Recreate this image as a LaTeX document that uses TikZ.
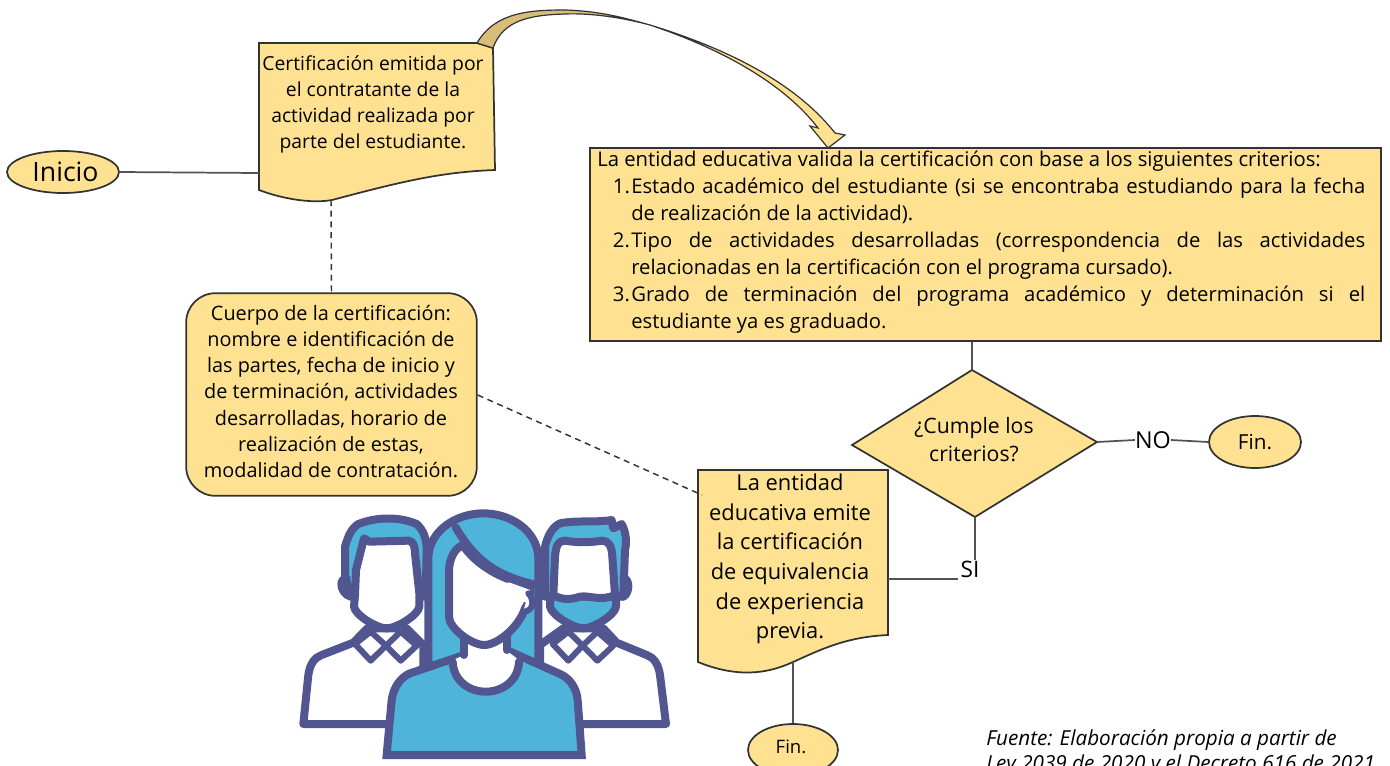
\documentclass[tikz,border=0pt]{standalone}
\usepackage{fontspec}
\setmainfont{Open Sans}
\usetikzlibrary{shapes.geometric}
\definecolor{yel}{HTML}{FEE292}
\definecolor{tan}{HTML}{D8BE78}
\definecolor{edge}{HTML}{333333}
\definecolor{icb}{HTML}{4FB4D9}
\definecolor{icp}{HTML}{525690}
\newcommand{\jl}[2]{\makebox[25.5pt][r]{#1\hspace{1pt}}\makebox[550.5pt][s]{#2}}
\newcommand{\jc}[1]{\hspace*{25.5pt}#1}
\tikzset{
  shapebox/.style={draw=edge,fill=yel,line width=1.3pt},
  link/.style={draw=edge!85,line width=1.3pt},
  dashlink/.style={draw=edge,line width=1.1pt,dashed,dash pattern=on 4.5pt off 3.5pt},
  txt/.style={align=center,inner sep=0pt,font=\fontsize{14.5}{19.3}\selectfont},
  termin/.style={shape=ellipse,shapebox,inner sep=0pt,align=center},
  icline/.style={draw=icp,line width=6pt,line join=round,line cap=round},
}
\begin{document}
\begin{tikzpicture}[x=0.75pt,y=-0.75pt]
\useasboundingbox (0,0) rectangle (1390,765);
% document 1
\draw[shapebox] (259,43) -- (477,43) -- (493,48) -- (495,170) .. controls (440,172) and (400,182) .. (332,200) .. controls (310,204) and (280,198) .. (259,190) -- cycle;
\coordinate (d1w) at (259,173);
\coordinate (d1b) at (331,200);
\node[txt] (d1) at (373,104.5) {Certificación emitida por\\el contratante de la\\actividad realizada por\\parte del estudiante.};
% curved arrow
\draw[draw=edge,fill=tan,line width=0.9pt] (477,43) .. controls (495,12) and (530,10) .. (565,10) .. controls (600,11) and (625,18) .. (650,25) .. controls (620,17) and (590,13) .. (565,14) .. controls (530,15) and (503,20) .. (493,48) -- cycle;
\draw[draw=edge,fill=yel,line width=0.9pt] (650,25) .. controls (725,48) and (795,82) .. (835,133) -- (845,135) -- (828,148) -- (810,126) -- (818,128) .. controls (785,85) and (725,50) .. (650,25) -- cycle;
% inicio
\node[termin,minimum width=84pt,minimum height=31.5pt] (ini) at (63,172) {};
\node[inner sep=0pt,font=\fontsize{20}{24}\selectfont] (init) at (65.5,172) {Inicio};
\draw[link] (ini.east) -- (d1w);
% rounded box
\node[shapebox,rounded corners=22pt,minimum width=218pt,minimum height=152pt,inner sep=0pt] (cu) at (331.5,394.5) {};
\node[txt,font=\fontsize{14.9}{19.65}\selectfont] (cut) at (331,391.5) {Cuerpo de la certificación:\\nombre e identificación de\\las partes, fecha de inicio y\\de terminación, actividades\\desarrolladas, horario de\\realización de estas,\\modalidad de contratación.};
\draw[dashlink] (d1b) -- (cu.north);
% big box
\node[shapebox,minimum width=593pt,minimum height=144.5pt,inner sep=0pt] (big) at (985.5,244.5) {};
\node[inner sep=0pt,anchor=north west,align=left,font=\fontsize{15.2}{20.25}\selectfont] (bigt) at (597,151) {La entidad educativa valida la certificación con base a los siguientes criterios:\\
\jl{1.}{Estado académico del estudiante (si se encontraba estudiando para la fecha}\\
\jc{de realización de la actividad).}\\
\jl{2.}{Tipo de actividades desarrolladas (correspondencia de las actividades}\\
\jc{relacionadas en la certificación con el programa cursado).}\\
\jl{3.}{Grado de terminación del programa académico y determinación si el}\\
\jc{estudiante ya es graduado.}};
% diamond
\draw[shapebox] (972,370) -- (1097,442) -- (975,517) -- (852,445) -- cycle;
\coordinate (dt) at (972,370);
\coordinate (dr) at (1097,442);
\coordinate (db) at (975,517);
\node[txt,font=\fontsize{15.9}{21}\selectfont] (dq) at (974,440) {¿Cumple los\\criterios?};
\draw[link] (big.south -| dt) -- (dt);
\node[inner sep=0pt,font=\fontsize{17.5}{21}\selectfont] (no) at (1153,440) {NO};
\node[termin,minimum width=69pt,minimum height=39pt,font=\fontsize{15.5}{18}\selectfont] (fin1) at (1255,442) {Fin.};
\draw[link] (dr) -- (no.west);
\draw[link] (no.east) -- (fin1.west);
\node[inner sep=0pt,font=\fontsize{17}{20}\selectfont] (si) at (970,569) {SI};
\draw[link] (db) -- (si.north -| db);
% document 2
\draw[shapebox] (698,470) -- (888,470) -- (888,635) .. controls (845,637) and (820,650) .. (793,662) .. controls (765,675) and (735,677) .. (698,662) -- cycle;
\coordinate (d2r) at (888,579);
\coordinate (d2b) at (793,662);
\coordinate (d2l) at (702,495);
\coordinate (siw) at (958,579);
\node[txt,font=\fontsize{16.4}{22.2}\selectfont] (d2) at (790,559) {La entidad\\educativa emite\\la certificación\\de equivalencia\\de experiencia\\previa.};
\draw[link] (d2r) -- (siw);
\draw[dashlink] (cu.east |- 0,395) -- (d2l);
\node[termin,minimum width=67.5pt,minimum height=39pt] (fin2) at (793,750) {};
\node[inner sep=0pt,font=\fontsize{13.9}{16}\selectfont] (fin2t) at (791,747) {Fin.};
\draw[link] (d2b) -- (fin2.north);
% source
\node[anchor=north west,inner sep=0pt,align=left,font=\fontsize{15.5}{18.8}\selectfont\itshape] (src) at (986,729) {Fuente: Elaboración propia a partir de\\Ley 2039 de 2020 y el Decreto 616 de 2021};
% icon
\begin{scope}[shift={(280,500)},x=0.25pt,y=-0.25pt]
% left man
\draw[icline,fill=white] (330,672) -- (70,672) -- (85,525) .. controls (90,490) and (105,472) .. (125,465) -- (220,428) -- (262,385) -- (380,385) -- (430,435) -- (430,672) -- cycle;
\draw[icline,fill=white,line width=4.5pt] (225,432) -- (272,395) -- (318,437) -- (272,482) -- cycle;
\draw[icline,fill=white,line width=4.5pt] (318,437) -- (362,395) -- (410,437) -- (362,482) -- cycle;
\draw[icline,fill=icb] (215,290) -- (195,230) -- (195,140) .. controls (205,105) and (215,85) .. (235,72) .. controls (290,50) and (360,50) .. (410,72) .. controls (430,90) and (440,115) .. (440,150) -- (437,290) -- cycle;
\draw[icline] (212,290) .. controls (180,280) and (175,235) .. (200,235);
\draw[icline,fill=white] (225,285) -- (228,210) -- (252,115) -- (268,125) -- (385,122) .. controls (400,122) and (405,140) .. (405,160) -- (418,280) -- (418,320) .. controls (415,345) and (350,385) .. (320,385) .. controls (290,385) and (225,345) .. (222,320) -- cycle;
% right man
\draw[icline,fill=white] (900,672) -- (1158,672) -- (1140,525) .. controls (1135,490) and (1120,472) .. (1100,465) -- (1010,428) -- (970,385) -- (850,385) -- (780,435) -- (780,672) -- cycle;
\draw[icline,fill=white,line width=4.5pt] (818,432) -- (865,395) -- (908,437) -- (865,482) -- cycle;
\draw[icline,fill=white,line width=4.5pt] (908,437) -- (952,395) -- (1000,437) -- (952,482) -- cycle;
\draw[icline,fill=icb] (795,290) -- (795,140) .. controls (805,100) and (820,80) .. (840,70) .. controls (890,60) and (950,68) .. (995,60) -- (1000,85) -- (1025,72) .. controls (1040,100) and (1040,130) .. (1035,150) -- (1030,290) -- cycle;
\draw[icline] (1030,290) .. controls (1050,280) and (1050,235) .. (1030,235);
\draw[icline,fill=icb] (810,290) -- (810,320) .. controls (815,345) and (880,385) .. (910,385) .. controls (940,385) and (1005,345) .. (1008,320) -- (1008,290) -- cycle;
\draw[icline,fill=white] (820,285) -- (825,170) .. controls (828,135) and (835,122) .. (855,122) .. controls (890,128) and (930,128) .. (965,122) .. controls (985,122) and (995,135) .. (997,170) -- (1005,285) .. controls (960,305) and (930,285) .. (900,290) .. controls (870,300) and (845,300) .. (820,285) -- cycle;
% woman hair
\draw[icline,fill=icb] (445,495) -- (445,170) .. controls (450,90) and (530,40) .. (610,40) .. controls (690,40) and (770,90) .. (775,170) -- (775,495) -- cycle;
% torso
\draw[icline,fill=icb,line cap=butt,line join=miter] (320,765) -- (335,600) .. controls (340,560) and (365,530) .. (390,520) -- (552,465) -- (680,450) -- (840,522) .. controls (870,535) and (890,565) .. (893,600) -- (905,765) -- cycle;
% neck
\fill[white] (552,380) -- (680,380) -- (680,452) -- (717,480) .. controls (715,540) and (670,575) .. (617,575) .. controls (565,575) and (520,540) .. (518,480) -- (552,466) -- cycle;
\draw[icline] (518,485) .. controls (520,540) and (565,575) .. (617,575) .. controls (670,575) and (715,540) .. (717,485);
\draw[icline] (552,405) -- (552,465);
\draw[icline] (680,405) -- (680,450);
% face
\draw[icline,fill=white] (507,350) -- (507,215) .. controls (507,175) and (525,145) .. (548,135) .. controls (585,190) and (660,240) .. (750,255) -- (750,300) -- (735,325) .. controls (715,385) and (650,435) .. (613,435) .. controls (575,435) and (507,385) .. (507,350) -- cycle;
\fill[white] (632,250) -- (690,248) -- (750,270) -- (745,310) -- (720,300) -- (725,272) .. controls (690,258) and (660,256) .. (632,250) -- cycle;
\draw[icline] (527,82) .. controls (590,190) and (660,230) .. (770,255);
\draw[icline,fill=white,line width=4.5pt] (745,280) .. controls (765,300) and (760,335) .. (730,335);
\end{scope}
\end{tikzpicture}
\end{document}
